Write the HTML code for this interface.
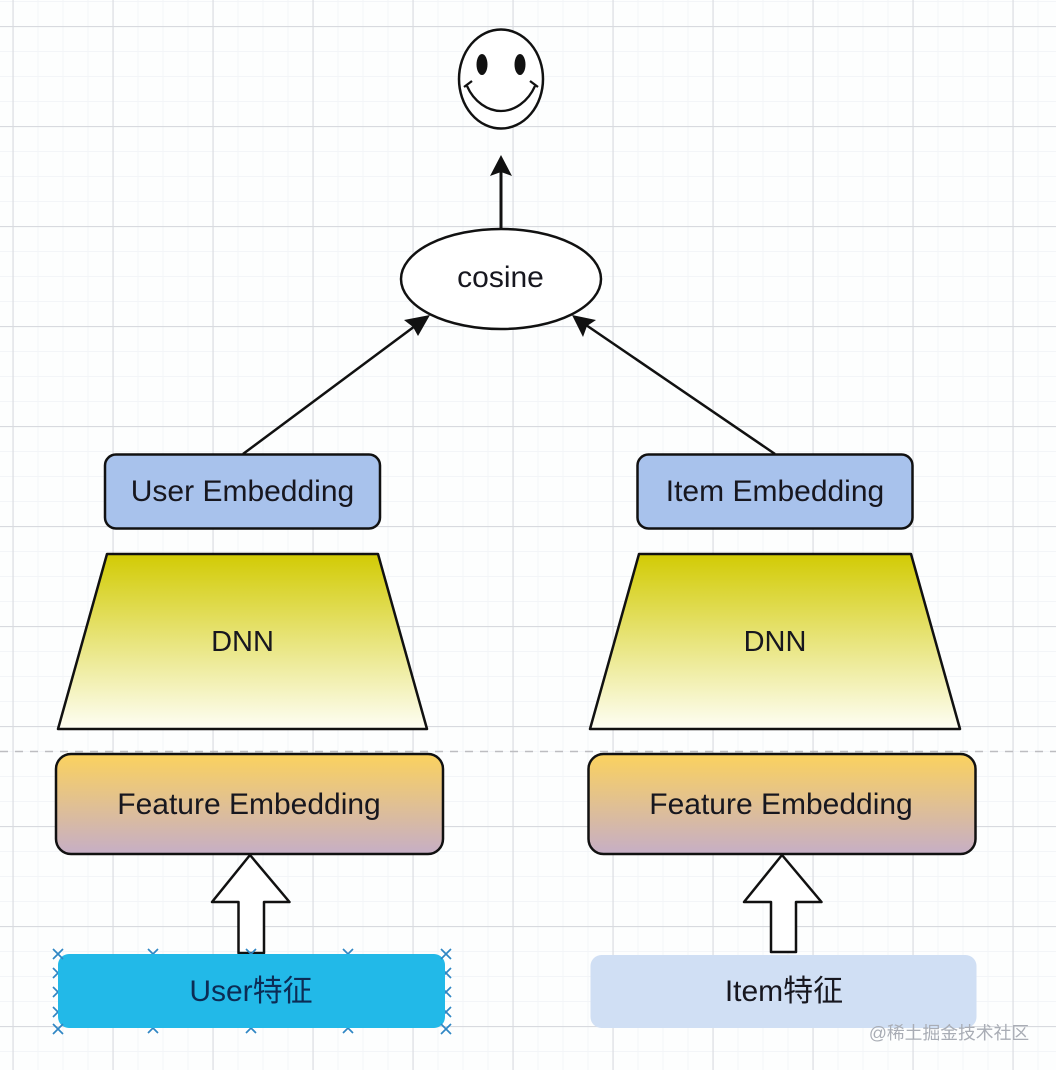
<!DOCTYPE html>
<html>
<head>
<meta charset="utf-8">
<style>
html,body{margin:0;padding:0;background:#fdfefe;}
svg{display:block;}
text{font-family:"Liberation Sans","Noto Sans CJK SC",sans-serif;font-size:30px;fill:#17171f;text-anchor:middle;}
</style>
</head>
<body>
<svg xmlns="http://www.w3.org/2000/svg" width="1056" height="1070" viewBox="0 0 1056 1070">
<defs>
<linearGradient id="y" x1="0" y1="0" x2="0" y2="1"><stop offset="0" stop-color="#d2cb04"/><stop offset="1" stop-color="#fefef4"/></linearGradient>
<linearGradient id="o" x1="0" y1="0" x2="0" y2="1"><stop offset="0" stop-color="#fbd25e"/><stop offset="1" stop-color="#c6aec6"/></linearGradient>
<pattern id="minor" width="25" height="25" patternUnits="userSpaceOnUse" x="12.500" y="1">
<path d="M0.500 0V25M0 0.500H25" stroke="#f3f5f8" stroke-width="1" fill="none"/>
</pattern>
<pattern id="major" width="100" height="100" patternUnits="userSpaceOnUse" x="12.500" y="26">
<path d="M0.500 0V100M0 0.500H100" stroke="#d8dadf" stroke-width="1.200" fill="none"/>
</pattern>
</defs>
<rect width="1056" height="1070" fill="#fdfefe"/>
<rect width="1056" height="1070" fill="url(#minor)"/>
<rect width="1056" height="1070" fill="url(#major)"/>
<path d="M0 751.500H1056" stroke="#bdbdc1" stroke-width="1.500" stroke-dasharray="8 7" fill="none"/>

<!-- smiley -->
<ellipse cx="501" cy="79" rx="42" ry="49.500" fill="#fff" stroke="#111" stroke-width="2.500"/>
<ellipse cx="482" cy="64.500" rx="5.500" ry="10.500" fill="#111"/>
<ellipse cx="520" cy="64.500" rx="5.500" ry="10.500" fill="#111"/>
<path d="M467 86C474 102 488 111 501 111C514 111 528 102 535 86" fill="none" stroke="#111" stroke-width="2.300"/>
<path d="M464 87L472 81M530 81L538 87" fill="none" stroke="#111" stroke-width="2.300"/>

<!-- connectors -->
<path d="M501 229V172" stroke="#111" stroke-width="3" fill="none"/>
<path d="M501 155L512 176L501 172L490 176Z" fill="#111"/>
<path d="M243 454L415 326" stroke="#111" stroke-width="2.500" fill="none"/>
<path d="M430 315L418 336L413 327L404 320Z" fill="#111"/>
<path d="M775 454L586 325" stroke="#111" stroke-width="2.500" fill="none"/>
<path d="M572 315L596 320L587 326L583 337Z" fill="#111"/>

<!-- cosine -->
<ellipse cx="501" cy="279" rx="100" ry="50" fill="#fff" stroke="#111" stroke-width="2.500"/>
<text x="500.500" y="287">cosine</text>

<!-- embeddings -->
<rect x="105" y="454.500" width="275" height="74" rx="11" fill="#a8c2ec" stroke="#111" stroke-width="2.500"/>
<text x="242.500" y="501">User Embedding</text>
<rect x="637.500" y="454.500" width="275" height="74" rx="11" fill="#a8c2ec" stroke="#111" stroke-width="2.500"/>
<text x="775" y="501">Item Embedding</text>

<!-- DNN -->
<path d="M107 554H378L427 729H58Z" fill="url(#y)" stroke="#111" stroke-width="2.500" stroke-linejoin="round"/>
<text x="242.500" y="651" style="font-size:29px">DNN</text>
<path d="M639 554H911L960 729H590Z" fill="url(#y)" stroke="#111" stroke-width="2.500" stroke-linejoin="round"/>
<text x="775" y="651" style="font-size:29px">DNN</text>

<!-- Feature embedding -->
<rect x="56" y="754" width="387" height="100" rx="15" fill="url(#o)" stroke="#111" stroke-width="2.500"/>
<text x="249" y="814">Feature Embedding</text>
<rect x="588.500" y="754" width="387" height="100" rx="15" fill="url(#o)" stroke="#111" stroke-width="2.500"/>
<text x="781" y="814">Feature Embedding</text>

<!-- block arrows -->
<path d="M250 855L289.500 902H264V953H238.500V902H212Z" fill="#fff" stroke="#111" stroke-width="2.500" stroke-linejoin="round"/>
<path d="M782 855L821.500 902H796V952H771V902H744Z" fill="#fff" stroke="#111" stroke-width="2.500" stroke-linejoin="round"/>

<!-- selection handles behind the box -->
<g stroke="#2f86c4" stroke-width="1.700" fill="none">
<path d="M148 949l10 10m0-10l-10 10M246 949l10 10m0-10l-10 10M343 949l10 10m0-10l-10 10"/>
<path d="M148 1023l10 10m0-10l-10 10M246 1023l10 10m0-10l-10 10M343 1023l10 10m0-10l-10 10"/>
<path d="M53 968l10 10m0-10l-10 10M53 987l10 10m0-10l-10 10M53 1007l10 10m0-10l-10 10"/>
<path d="M441 968l10 10m0-10l-10 10M441 987l10 10m0-10l-10 10M441 1007l10 10m0-10l-10 10"/>
</g>

<!-- feature boxes -->
<rect x="58" y="954" width="387" height="74" rx="11" fill="#22b9e8"/>
<text x="251" y="1001" style="fill:#0c2c55">User特征</text>
<rect x="590.500" y="955" width="386" height="73" rx="11" fill="#d0dff4"/>
<text x="784" y="1001">Item特征</text>

<!-- corner handles -->
<g stroke="#2f86c4" stroke-width="1.700" fill="none">
<path d="M53 949l10 10m0-10l-10 10M441 949l10 10m0-10l-10 10M53 1024l10 10m0-10l-10 10M441 1024l10 10m0-10l-10 10"/>
</g>

<!-- watermark -->
<text x="949" y="1039" style="font-size:17.800px;fill:#a9adb5">@稀土掘金技术社区</text>
</svg>
</body>
</html>
